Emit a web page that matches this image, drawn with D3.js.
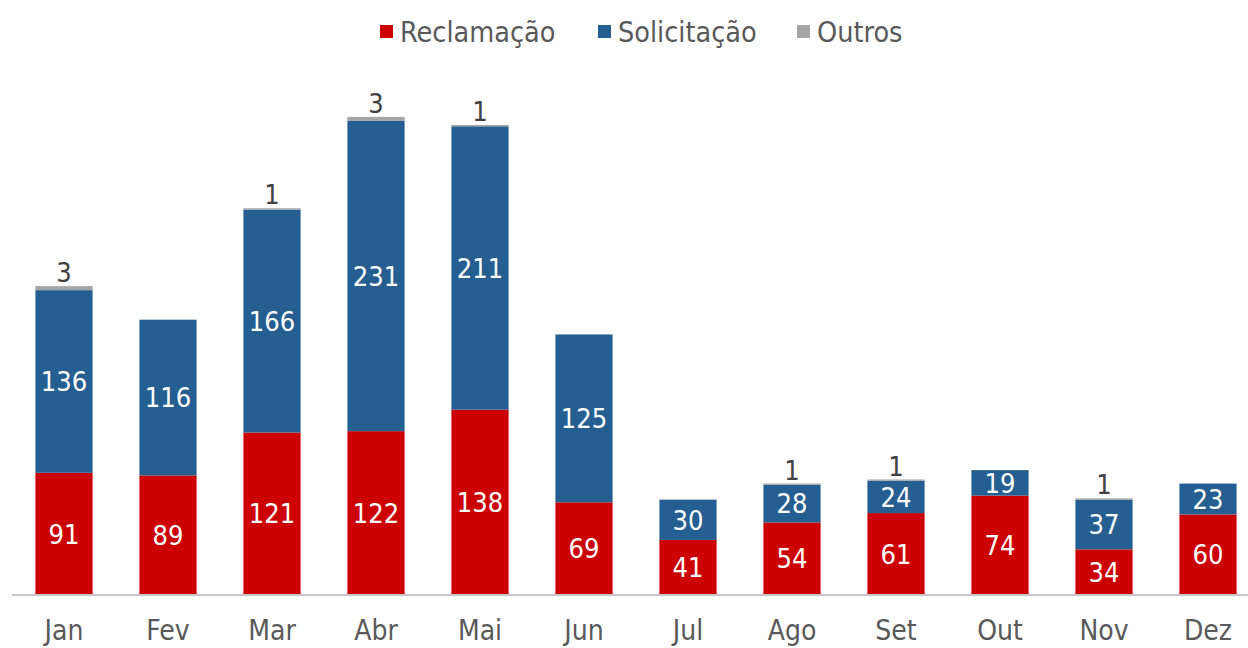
<!DOCTYPE html>
<html lang="pt">
<head>
<meta charset="UTF-8">
<title>Reclamação / Solicitação</title>
<script src="https://cdn.jsdelivr.net/npm/d3@7"></script>
<style>
  body { margin: 0; background: #fff; }
  text { font-family: "DejaVu Sans Condensed", "DejaVu Sans", sans-serif; }
</style>
</head>
<body>
<svg width="1248" height="648"></svg>
<script>
var months = ['Jan', 'Fev', 'Mar', 'Abr', 'Mai', 'Jun', 'Jul', 'Ago', 'Set', 'Out', 'Nov', 'Dez']
var reclamacao = [91, 89, 121, 122, 138, 69, 41, 54, 61, 74, 34, 60]
var solicitacao = [136, 116, 166, 231, 211, 125, 30, 28, 24, 19, 37, 23]
var outros = [3, 0, 1, 3, 1, 0, 0, 1, 1, 0, 1, 0]
var seriesNames = ['Reclamação', 'Solicitação', 'Outros']
var colors = ['#cc0000', '#255e91', '#a5a5a5']

var svg = d3.select('svg')
var baseY = 595

// tabela para o stack
var table = months.map(function (m, i) {
    return { month: m, 'Reclamação': reclamacao[i], 'Solicitação': solicitacao[i], 'Outros': outros[i] }
})
var stacked = d3.stack().keys(seriesNames)(table)

var x = d3.scaleBand()
    .domain(months)
    .range([12, 1260])
    .paddingInner(0.45)
    .paddingOuter(0.225)

var y = d3.scaleLinear()
    .domain([0, 360])
    .range([baseY, baseY - 360 * 1.343])

// barras
var layers = svg.append('g').selectAll('g').data(stacked).enter().append('g')
    .attr('fill', function (d, i) { return colors[i] })

layers.selectAll('rect').data(function (d) { return d }).enter().append('rect')
    .attr('x', function (d) { return x(d.data.month) })
    .attr('width', x.bandwidth())
    .attr('y', function (d) { return y(d[1]) })
    .attr('height', function (d) { return y(d[0]) - y(d[1]) })

// eixo x
var axisX = d3.axisBottom(x).tickSize(0).tickPadding(0)
var gx = svg.append('g').attr('transform', 'translate(0,' + baseY + ')').call(axisX)
gx.select('.domain').remove()
gx.append('line').attr('x1', 12).attr('x2', 1248).attr('y1', 0).attr('y2', 0)
    .attr('stroke', '#c9c9c9').attr('stroke-width', 2)
gx.selectAll('.tick text')
    .attr('y', 45)
    .attr('dy', 0)
    .attr('fill', '#595959')
    .style('font-size', '28px')

// rótulos dentro das barras
var labels = svg.append('g')
stacked.forEach(function (layer, li) {
    layer.forEach(function (d) {
        var v = d[1] - d[0]
        if (v <= 0) return
        var cx = x(d.data.month) + x.bandwidth() / 2
        if (li < 2) {
            labels.append('text')
                .attr('x', cx)
                .attr('y', (y(d[0]) + y(d[1])) / 2)
                .attr('dy', '0.36em')
                .attr('text-anchor', 'middle')
                .attr('fill', '#fff')
                .style('font-size', '27px')
                .text(v)
        } else {
            labels.append('text')
                .attr('x', cx)
                .attr('y', y(d[1]) - 4)
                .attr('text-anchor', 'middle')
                .attr('fill', '#404040')
                .style('font-size', '27px')
                .text(v)
        }
    })
})

// legenda
var legendX = [380, 598, 797]
var legend = svg.append('g')
seriesNames.forEach(function (name, i) {
    legend.append('rect')
        .attr('x', legendX[i]).attr('y', 25)
        .attr('width', 13).attr('height', 13)
        .attr('fill', colors[i])
    legend.append('text')
        .attr('x', legendX[i] + 20).attr('y', 32)
        .attr('dy', '0.36em')
        .attr('fill', '#595959')
        .style('font-size', '28.5px')
        .text(name)
})
</script>
</body>
</html>
